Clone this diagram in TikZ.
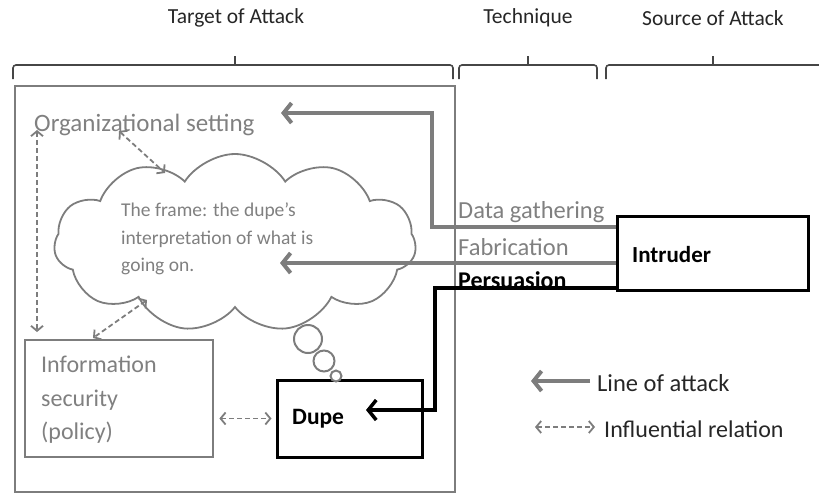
\documentclass[tikz,border=0pt]{standalone}
\usepackage{fontspec}
\setmainfont{Carlito}
\usetikzlibrary{shapes.symbols,arrows.meta}
\definecolor{lgray}{RGB}{125,125,125}
\definecolor{tgray}{RGB}{128,128,128}
\definecolor{bgray}{RGB}{70,70,70}
\begin{document}
\begin{tikzpicture}[x=1pt,y=-1pt,
  title/.style={font=\fontsize{21.5}{24}\selectfont, text=black!85, inner sep=0},
  brace/.style={draw=bgray, line width=1.6pt, rounded corners=3pt},
  frame/.style={draw=lgray, line width=2.8pt, inner sep=0},
  solidbox/.style={draw=black, line width=3pt, inner sep=0},
  graytxt/.style={text=tgray, inner sep=0, anchor=west},
  attack/.style={draw=lgray, line width=4pt, -{Straight Barb[length=8pt,width=20pt]}},
  blackattack/.style={draw=black, line width=3.5pt, -{Straight Barb[length=8pt,width=20pt]}},
  influence/.style={draw=lgray, line width=1.8pt, dash pattern=on 5pt off 3pt,
    {Straight Barb[length=5pt,width=12pt]}-{Straight Barb[length=5pt,width=12pt]}},
  bubble/.style={draw=lgray, line width=2pt, fill=white, circle, inner sep=0},
  label/.style={font=\fontsize{24.5}{28}\selectfont},
  boldlabel/.style={font=\fontsize{23.5}{28}\bfseries},
]
\useasboundingbox (0,0) rectangle (819,496);

% column titles
\node[title] (ttarget) at (236,18) {Target of Attack};
\node[title] (ttech) at (528,18) {Technique};
\node[title] (tsource) at (713,18) {Source of Attack};

% braces under the titles
\draw[brace] (13,79) |- (453,65) -- (453,79);
\draw[brace] (235,65) -- (235,56);
\draw[brace] (459,79) |- (597,65) -- (597,79);
\draw[brace] (528,65) -- (528,56);
\draw[brace] (606,79) |- (819,65);
\draw[brace] (713,65) -- (713,56);

% target area
\node[frame, minimum width=440, minimum height=406] (target) at (235,289) {};
\node[graytxt, font=\fontsize{25}{28}\selectfont] (org) at (34,125) {Organizational setting};

% the frame cloud
\node[cloud, draw=lgray, line width=1.8pt, cloud puffs=11, cloud puff arc=115,
      aspect=2, minimum width=362, minimum height=178, inner sep=0] (cloud) at (235,243) {};
\node[graytxt, align=left, font=\fontsize{19.5}{27.5}\selectfont] (frametxt) at (121,239)
  {The frame: the dupe’s\\interpretation of what is\\going on.};

% information security
\node[frame, minimum width=188, minimum height=117] (info) at (119,398.5) {};
\node[graytxt, align=left, font=\fontsize{24}{33.5}\selectfont] (infotxt) at (41,400)
  {Information\\security\\(policy)};

% dupe and thought bubbles
\node[solidbox, minimum width=145, minimum height=77] (dupe) at (349.5,418.5) {};
\node[anchor=west, inner sep=0, boldlabel] (dupetxt) at (292,419) {Dupe};
\node[bubble, minimum size=28] (b1) at (308,339) {};
\node[bubble, minimum size=21] (b2) at (324,361) {};
\node[bubble, minimum size=11] (b3) at (336,376) {};

% intruder
\node[solidbox, minimum width=191, minimum height=74] (intruder) at (712.5,253) {};
\node[anchor=west, inner sep=0, font=\fontsize{23}{26}\bfseries] (intrtxt) at (632,255) {Intruder};

% technique labels
\node[graytxt, label] (dg) at (458,212) {Data gathering};
\node[graytxt, label] (fab) at (458,247) {Fabrication};
\node[anchor=west, inner sep=0, font=\fontsize{24}{28}\bfseries] (pers) at (458,280) {Persuasion};

% lines of attack
\coordinate (dgtip) at (281,113);
\coordinate (fabtip) at (280,263);
\coordinate (perstip) at (366,410);
\draw[attack] ([yshift=26pt]intruder.west) -| (432,113) -- (dgtip);
\draw[attack] ([yshift=-10pt]intruder.west) -- (fabtip);
\draw[blackattack] ([yshift=-35pt]intruder.west) -| (435,410) -- (perstip);

% influential relations
\coordinate (vtop) at (37,130);
\coordinate (vbot) at (37,332);
\coordinate (orgend) at (119,131);
\coordinate (cloudtop) at (165,173);
\coordinate (cloudbot) at (147,300);
\coordinate (infotop) at (93,338);
\draw[influence] (vtop) -- (vbot);
\draw[influence] (orgend) -- (cloudtop);
\draw[influence] (cloudbot) -- (infotop);
\draw[influence] (info.east |- dupe.west) ++(5,0) coordinate (ie) -- ([xshift=-4pt]dupe.west);

% legend
\coordinate (la) at (590,381);
\coordinate (lb) at (531,381);
\draw[attack] (la) -- (lb);
\node[anchor=west, inner sep=0, text=black!85, font=\fontsize{24.5}{28}\selectfont] (ltxt) at (597,383) {Line of attack};
\coordinate (ia) at (535,427);
\coordinate (ib) at (595,427);
\draw[influence] (ia) -- (ib);
\node[anchor=west, inner sep=0, text=black!85, font=\fontsize{24}{28}\selectfont] (itxt) at (604,429) {Influential relation};
\end{tikzpicture}
\end{document}
